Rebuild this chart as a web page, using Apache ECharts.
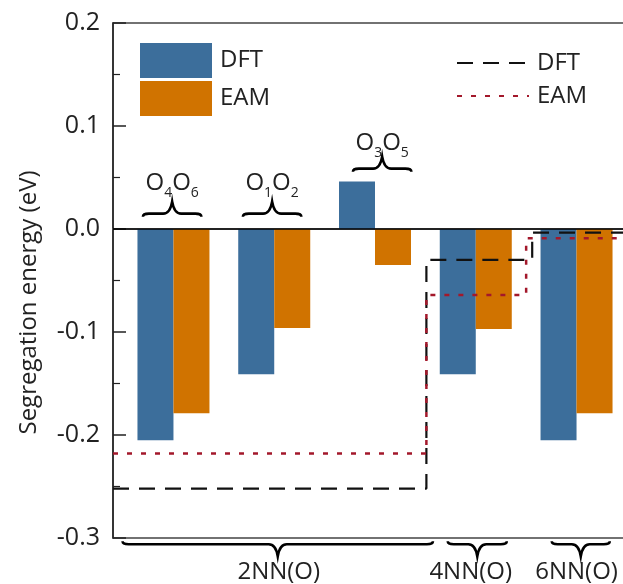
<!DOCTYPE html>
<html><head><meta charset="utf-8">
<script src="https://cdn.jsdelivr.net/npm/echarts@6/dist/echarts.min.js"></script>
<style>html,body{margin:0;padding:0;background:#fff}#c{width:623px;height:584px}</style>
</head><body><div id="c"></div>
<script>
// ---- data ----
const groupPos = [1, 2, 3, 4, 5];
const dftBar = [-0.205, -0.141, 0.046, -0.141, -0.205];
const eamBar = [-0.179, -0.096, -0.035, -0.097, -0.179];
const dftStepX = [0.4, 3.51, 4.56, 5.6];
const dftStepY = [-0.252, -0.030, -0.0035, -0.0035];
const eamStepX = [0.4, 3.51, 4.50, 5.6];
const eamStepY = [-0.218, -0.064, -0.009, -0.009];
const shellLabels = ['2NN(O)', '4NN(O)', '6NN(O)'];
const shellLabelPos = [2.045, 3.95, 5.0];
const shellBraceX = [2.035, 4.015, 5.042];
const shellBraceHalf = [1.54, 0.293, 0.288];
const shellBraceY = -0.306;
const siteLabels = ['{m|O}{s|4}{m|O}{s|6}', '{m|O}{s|1}{m|O}{s|2}', '{m|O}{s|3}{m|O}{s|5}'];
const siteX = [0.987, 1.979, 3.071];
const siteBraceHalf = [0.29, 0.29, 0.29];
const siteBraceY = [0.0149, 0.0149, 0.0586];
const siteLabelY = [0.0444, 0.0444, 0.0832];

const FONT = '"Open Sans", "DejaVu Sans", sans-serif';
const zip = (xs, ys) => xs.map((x, i) => [x, ys[i]]);

// annotation items: [cx, braceY, halfWidth, dir(-1 up tip, 1 down tip), labelIndex(-1 none), labelY]
const annot = [];
siteX.forEach((x, i) => annot.push([x, siteBraceY[i], siteBraceHalf[i], -1, i, siteLabelY[i]]));
shellBraceX.forEach((x, i) => annot.push([x, shellBraceY, shellBraceHalf[i], 1, -1, 0]));

const chart = echarts.init(document.getElementById('c'));
chart.setOption({
  animation: false,
  grid: { left: 113, top: 23, bottom: 46, right: -14, outerBoundsMode: 'none', containLabel: false,
          show: true, borderColor: '#444', borderWidth: 1.5, backgroundColor: 'transparent' },
  legend: [
    { data: ['DFT', 'EAM'], orient: 'vertical', left: 140, top: 43, padding: 0, itemWidth: 72, itemHeight: 35, itemGap: 3,
      icon: 'rect', selectedMode: false, textStyle: { fontSize: 24, fontFamily: FONT, color: '#222', padding: [0, 0, 0, 3] } },
    { data: ['DFT line', 'EAM line'], orient: 'vertical', left: 456, top: 49, padding: 0, itemWidth: 72, itemHeight: 35, itemGap: 5,
      selectedMode: false, formatter: n => n.replace(' line', ''), itemStyle: { opacity: 0 },
      textStyle: { fontSize: 24, fontFamily: FONT, color: '#222', padding: [0, 0, 0, 3] } }
  ],
  xAxis: {
    type: 'value', min: 0.4, max: 5.6,
    axisLine: { show: true, lineStyle: { color: '#666', width: 1.5 } },
    axisTick: { show: false }, splitLine: { show: false },
    axisLabel: {
      customValues: shellLabelPos, margin: 22, fontSize: 24, fontFamily: FONT, color: '#222',
      formatter: v => { let k = 0; shellLabelPos.forEach((p, i) => { if (Math.abs(p - v) < Math.abs(shellLabelPos[k] - v)) k = i; }); return shellLabels[k]; }
    }
  },
  yAxis: {
    type: 'value', min: -0.3, max: 0.2, interval: 0.1,
    name: 'Segregation energy (eV)', nameLocation: 'middle', nameGap: 72,
    nameTextStyle: { fontSize: 24, fontFamily: FONT, color: '#222', padding: [0, 44, 0, 0] },
    axisLine: { show: true, lineStyle: { color: '#222', width: 1.5 } },
    axisTick: { show: true, inside: true, length: 13, lineStyle: { color: '#222', width: 1.5 } },
    minorTick: { show: true, splitNumber: 2, length: 7, lineStyle: { color: '#222', width: 1.2 } },
    splitLine: { show: false },
    axisLabel: { margin: 13, fontSize: 25, fontFamily: FONT, color: '#222', formatter: v => v.toFixed(1) }
  },
  series: [
    { name: 'DFT', type: 'bar', data: zip(groupPos, dftBar), barWidth: 36, barGap: '0%',
      itemStyle: { color: '#3c6e9b' }, z: 2,
      markLine: { silent: true, symbol: ['none', 'none'], label: { show: false },
        lineStyle: { type: 'solid', color: '#000', width: 1.5 }, data: [{ yAxis: 0 }] } },
    { name: 'EAM', type: 'bar', data: zip(groupPos, eamBar), barWidth: 36, barGap: '0%',
      itemStyle: { color: '#d07300' }, z: 2 },
    { name: 'DFT line', type: 'line', step: 'end', symbol: 'none', data: zip(dftStepX, dftStepY), z: 4,
      itemStyle: { color: '#111' },
      lineStyle: { color: '#111', width: 2.2, type: [16, 10] } },
    { name: 'EAM line', type: 'line', step: 'end', symbol: 'none', data: zip(eamStepX, eamStepY), z: 5,
      itemStyle: { color: '#a3182b' },
      lineStyle: { color: '#a3182b', width: 2.5, type: [5, 9] } },
    { name: 'annot', type: 'custom', data: annot, encode: { x: 0, y: 1 }, clip: false, silent: true, z: 6,
      renderItem: (params, api) => {
        const cx = api.value(0), y = api.value(1), hw = api.value(2), dir = api.value(3), li = api.value(4), ly = api.value(5);
        const p = api.coord([cx, y]);
        const l = api.coord([cx - hw, y])[0], r = api.coord([cx + hw, y])[0];
        const yy = p[1], h = 12 * dir, e = -3 * dir, c = p[0];
        const d = `M${l},${yy + e} Q${l},${yy} ${l + 6},${yy} L${c - 9},${yy} Q${c - 2},${yy} ${c},${yy + h} Q${c + 2},${yy} ${c + 9},${yy} L${r - 6},${yy} Q${r},${yy} ${r},${yy + e}`;
        const children = [{ type: 'path', shape: { pathData: d }, style: { fill: null, stroke: '#000', lineWidth: 2.6 } }];
        if (li >= 0) {
          const lp = api.coord([cx, ly]);
          children.push({ type: 'text', style: {
            text: siteLabels[li], x: lp[0], y: lp[1], align: 'center', verticalAlign: 'middle',
            fontFamily: FONT, fill: '#222',
            rich: { m: { fontSize: 24, lineHeight: 34, fontFamily: FONT, fill: '#222' },
                    s: { fontSize: 14, lineHeight: 14, verticalAlign: 'bottom', fontFamily: FONT, fill: '#222' } } } });
        }
        return { type: 'group', children };
      } }
  ]
});
</script></body></html>
